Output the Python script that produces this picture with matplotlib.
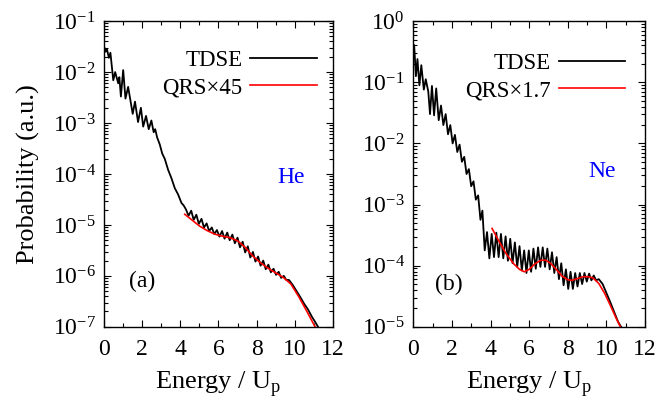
#!/usr/bin/env python3
"""
Photoelectron spectra of He and Ne: TDSE vs scaled QRS.
"""

import numpy as np
import matplotlib.pyplot as plt
from matplotlib.ticker import MultipleLocator, LogLocator, NullFormatter

plt.rcParams['font.family'] = ['Liberation Serif', 'DejaVu Serif']
plt.rcParams['mathtext.fontset'] = 'custom'
plt.rcParams['mathtext.rm'] = 'Liberation Serif'
plt.rcParams['axes.unicode_minus'] = False

# ---- He (panel a), values as log10(probability) ----
he_tdse_e = [0.00, 0.08, 0.15, 0.25, 0.33, 0.48, 0.58, 0.74, 0.80, 0.88,
             1.00, 1.12, 1.26, 1.50, 1.62, 1.78, 1.93, 2.05, 2.20, 2.34,
             2.48, 2.60, 2.68, 2.78, 2.92, 3.05, 3.18, 3.36, 3.53, 3.71,
             3.88, 4.06, 4.18,
             4.30, 4.43, 4.57, 4.70, 4.84, 4.97, 5.11, 5.24, 5.38, 5.51,
             5.65, 5.78, 5.92, 6.05, 6.19, 6.32, 6.46, 6.59, 6.73, 6.86,
             7.00, 7.13, 7.27, 7.40, 7.54, 7.67, 7.81, 7.94, 8.08, 8.21,
             8.35, 8.48, 8.62, 8.75, 8.89, 9.02, 9.16, 9.29, 9.43, 9.56,
             9.70, 9.90, 10.10, 10.30, 10.50, 10.70, 10.90, 11.10, 11.30]
he_tdse_log = [-1.50, -1.60, -1.55, -1.72, -1.62, -2.16, -2.00, -2.22, -2.10, -2.48,
               -1.96, -2.52, -2.29, -2.82, -2.58, -2.98, -2.70, -3.07, -2.86, -3.12,
               -2.95, -3.18, -3.12, -3.28, -3.42, -3.60, -3.70, -3.92, -4.08, -4.28,
               -4.40, -4.57, -4.62,
               -4.70, -4.82, -4.72, -4.90, -4.80, -4.98, -4.88, -5.05, -4.97, -5.12,
               -5.05, -5.18, -5.10, -5.23, -5.12, -5.27, -5.15, -5.30, -5.19, -5.36,
               -5.25, -5.44, -5.33, -5.54, -5.42, -5.64, -5.53, -5.72, -5.62, -5.80,
               -5.70, -5.87, -5.78, -5.93, -5.86, -5.98, -5.92, -6.04, -6.00, -6.08,
               -6.08, -6.18, -6.30, -6.42, -6.55, -6.66, -6.80, -6.92, -7.05]

he_qrs_e = [4.23, 4.60, 5.00, 5.40, 5.80, 6.20, 6.60, 7.00, 7.40, 7.80,
            8.20, 8.60, 9.00, 9.40, 9.80, 10.20, 10.60, 11.10]
he_qrs_log = [-4.79, -4.90, -5.02, -5.11, -5.18, -5.22, -5.25, -5.31, -5.44, -5.61,
              -5.74, -5.85, -5.94, -6.03, -6.16, -6.40, -6.67, -7.02]

# ---- Ne (panel b) ----
ne_tdse_e = [0.00, 0.05, 0.14, 0.22, 0.32, 0.42, 0.55, 0.65, 0.78, 0.87,
             0.97, 1.08, 1.19, 1.32, 1.44, 1.56, 1.68, 1.80, 1.92, 2.04,
             2.16, 2.28, 2.40, 2.52, 2.64, 2.76, 2.88, 3.00, 3.12, 3.24,
             3.36, 3.48, 3.58, 3.70, 3.82,
             3.94, 4.06, 4.18, 4.30, 4.42, 4.54, 4.66, 4.78, 4.90, 5.02,
             5.14, 5.26, 5.38, 5.50, 5.62, 5.74, 5.86, 5.98, 6.10, 6.22,
             6.34, 6.46, 6.58, 6.70, 6.82, 6.94, 7.06, 7.18, 7.30, 7.42,
             7.54, 7.66, 7.78, 7.90, 8.02, 8.14, 8.26, 8.38, 8.50, 8.62,
             8.74, 8.86, 8.98, 9.10, 9.22, 9.34, 9.46,
             9.60, 9.80, 10.00, 10.20, 10.40, 10.60, 10.85]
ne_tdse_log = [-0.42, -0.39, -0.90, -0.62, -1.05, -0.72, -1.12, -0.95, -1.15, -1.52,
               -1.06, -1.54, -1.10, -1.62, -1.38, -1.70, -1.52, -1.85, -1.70, -2.00,
               -1.86, -2.14, -2.02, -2.30, -2.22, -2.50, -2.42, -2.70, -2.62, -2.92,
               -2.85, -3.25, -3.10, -3.75, -3.45,
               -3.88, -3.48, -3.86, -3.46, -3.86, -3.48, -3.88, -3.52, -3.92, -3.56,
               -3.96, -3.62, -4.02, -3.68, -4.08, -3.75, -4.12, -3.75, -4.10, -3.72,
               -4.05, -3.70, -4.02, -3.70, -4.02, -3.72, -4.06, -3.78, -4.12, -3.86,
               -4.22, -3.96, -4.32, -4.06, -4.38, -4.10, -4.38, -4.12, -4.34, -4.12,
               -4.30, -4.12, -4.26, -4.13, -4.24, -4.16, -4.24,
               -4.22, -4.30, -4.45, -4.60, -4.76, -4.92, -5.05]

ne_qrs_e = [4.08, 4.40, 4.80, 5.20, 5.50, 5.75, 6.00, 6.30, 6.60, 6.85,
            7.10, 7.40, 7.70, 8.00, 8.20, 8.50, 8.80, 9.05, 9.30, 9.60,
            9.90, 10.20, 10.50, 10.75]
ne_qrs_log = [-3.39, -3.58, -3.80, -3.97, -4.06, -4.10, -4.06, -3.97, -3.91, -3.91,
              -3.96, -4.06, -4.17, -4.23, -4.24, -4.21, -4.18, -4.18, -4.20, -4.29,
              -4.45, -4.65, -4.86, -5.02]


def style_axis(ax, ymin, ymax):
    ax.set_yscale('log')
    ax.set_xlim(0, 12)
    ax.set_ylim(ymin, ymax)
    ax.xaxis.set_major_locator(MultipleLocator(2))
    ax.xaxis.set_minor_locator(MultipleLocator(1))
    ax.yaxis.set_major_locator(LogLocator(base=10, numticks=20))
    ax.yaxis.set_minor_locator(LogLocator(base=10, subs=np.arange(2, 10), numticks=20))
    ax.yaxis.set_minor_formatter(NullFormatter())
    ax.tick_params(which='both', direction='in', top=True, right=True,
                   labelsize=17, width=0.8)
    ax.tick_params(which='major', length=5)
    ax.tick_params(axis='x', which='major', pad=9)
    ax.tick_params(axis='y', which='major', pad=6)
    ax.tick_params(which='minor', length=3)
    for s in ax.spines.values():
        s.set_linewidth(1.0)
    ax.set_xlabel(r'Energy / U$_\mathregular{p}$', fontsize=19, labelpad=6)


fig = plt.figure(figsize=(6.59, 4.07), dpi=100)
ax1 = fig.add_axes([0.158, 0.197, 0.347, 0.751])
ax2 = fig.add_axes([0.627, 0.197, 0.352, 0.751])

ax1.plot(he_tdse_e, 10.0 ** np.array(he_tdse_log), color='black', lw=1.3, label='TDSE')
ax1.plot(he_qrs_e, 10.0 ** np.array(he_qrs_log), color='red', lw=1.2, label='QRS×45')
style_axis(ax1, 1e-7, 1e-1)
ax1.set_ylabel('Probability (a.u.)', fontsize=19, labelpad=9)
ax1.text(0.817, 0.49, 'He', color='blue', fontsize=17, transform=ax1.transAxes,
         ha='center', va='center')
ax1.text(0.165, 0.148, '(a)', fontsize=17, transform=ax1.transAxes,
         ha='center', va='center')
ax1.legend(loc='upper right', bbox_to_anchor=(0.93, 0.905), frameon=False,
           markerfirst=False, fontsize=16.5, handlelength=2.9, handletextpad=0.35,
           labelspacing=0.25, borderpad=0, borderaxespad=0)

ax2.plot(ne_tdse_e, 10.0 ** np.array(ne_tdse_log), color='black', lw=1.3, label='TDSE')
ax2.plot(ne_qrs_e, 10.0 ** np.array(ne_qrs_log), color='red', lw=1.2, label='QRS×1.7')
style_axis(ax2, 1e-5, 1e0)
ax2.text(0.813, 0.507, 'Ne', color='blue', fontsize=17, transform=ax2.transAxes,
         ha='center', va='center')
ax2.text(0.155, 0.137, '(b)', fontsize=17, transform=ax2.transAxes,
         ha='center', va='center')
ax2.legend(loc='upper right', bbox_to_anchor=(0.915, 0.895), frameon=False,
           markerfirst=False, fontsize=16.5, handlelength=2.9, handletextpad=0.35,
           labelspacing=0.25, borderpad=0, borderaxespad=0)

fig.savefig('out.png', dpi=100)
